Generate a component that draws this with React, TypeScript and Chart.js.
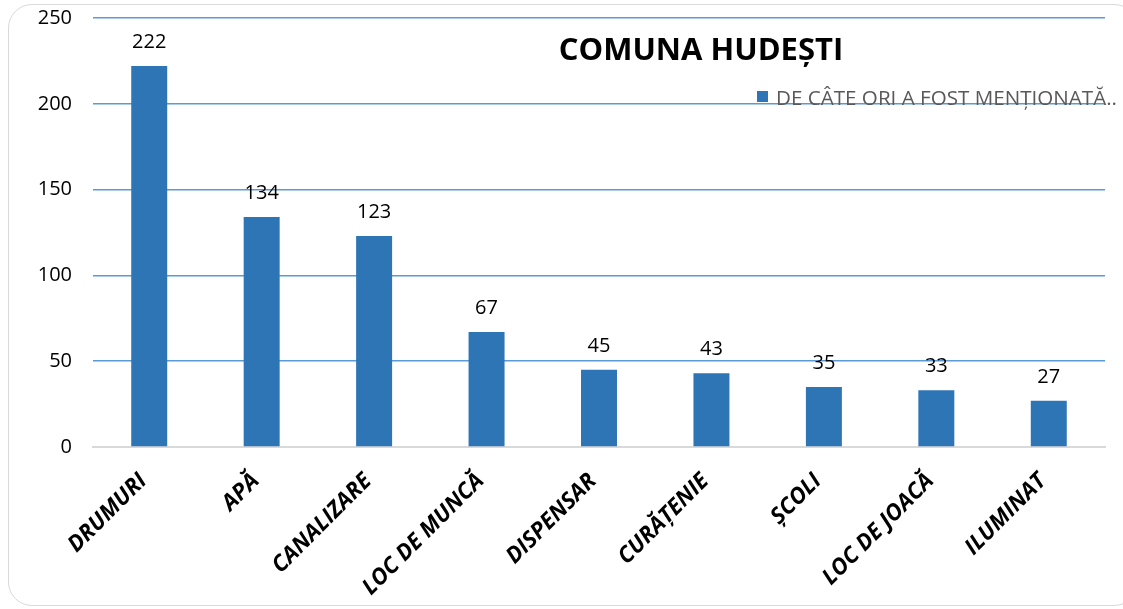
import React, { useEffect, useRef } from "react";
import { Chart, registerables } from "chart.js";
Chart.register(...registerables);

const categories = ["DRUMURI", "APĂ", "CANALIZARE", "LOC DE MUNCĂ", "DISPENSAR", "CURĂȚENIE", "ȘCOLI", "LOC DE JOACĂ", "ILUMINAT"];
const values = [222, 134, 123, 67, 45, 43, 35, 33, 27];
const yTicks = [0, 50, 100, 150, 200, 250];
const chartTitle = "COMUNA HUDEȘTI";
const seriesName = "DE CÂTE ORI A FOST MENȚIONATĂ..";

const FONT = "'Open Sans', 'Liberation Sans', sans-serif";
const BAR = "#2E75B6";

export default function App() {
  const ref = useRef<HTMLCanvasElement | null>(null);
  useEffect(() => {
    if (!ref.current) return;
    const overlay = {
      id: "overlay",
      afterDatasetsDraw(chart: any) {
        const ctx = chart.ctx;
        const meta = chart.getDatasetMeta(0);
        ctx.save();
        ctx.fillStyle = "#000";
        ctx.font = `20px ${FONT}`;
        ctx.textAlign = "center";
        ctx.textBaseline = "alphabetic";
        meta.data.forEach((el: any, i: number) => {
          ctx.fillText(String(values[i]), el.x, el.y - 18);
        });
        // title
        ctx.font = `bold 31px ${FONT}`;
        ctx.textBaseline = "middle";
        ctx.fillText(chartTitle, 701, 51);
        // legend
        ctx.fillStyle = BAR;
        ctx.fillRect(757, 91, 11, 11);
        ctx.fillStyle = "#595959";
        ctx.font = `20.6px ${FONT}`;
        ctx.textAlign = "left";
        ctx.textBaseline = "alphabetic";
        ctx.fillText(seriesName, 776, 105);
        ctx.restore();
      },
    };
    const chart = new Chart(ref.current, {
      type: "bar",
      data: {
        labels: categories,
        datasets: [
          {
            label: seriesName,
            data: values,
            backgroundColor: BAR,
            barPercentage: 0.32,
            categoryPercentage: 1,
          },
        ],
      },
      options: {
        responsive: false,
        animation: false,
        layout: { padding: { top: 18, right: 18, left: 0, bottom: 0 } },
        plugins: { legend: { display: false }, title: { display: false }, tooltip: { enabled: false } },
        scales: {
          x: {
            grid: { display: false },
            border: { color: "#D9D9D9", width: 2 },
            ticks: {
              color: "#000",
              font: { family: FONT, size: 22.5, weight: "bold", style: "italic" },
              maxRotation: 45,
              minRotation: 45,
              autoSkip: false,
              padding: 13,
              labelOffset: -6,
            },
            afterFit: (s: any) => {
              s.height = 162;
              s.paddingLeft = 0;
              s.paddingRight = 0;
            },
          },
          y: {
            min: 0,
            max: 250,
            afterBuildTicks: (s: any) => {
              s.ticks = yTicks.map((v) => ({ value: v }));
            },
            border: { display: false },
            grid: {
              drawTicks: false,
              color: (c: any) => (c.tick && c.tick.value === 0 ? "rgba(0,0,0,0)" : "#5B9BD5"),
              lineWidth: 1.6,
            },
            ticks: { color: "#000", font: { family: FONT, size: 20 }, padding: 21 },
            afterFit: (s: any) => {
              s.width = 93;
              s.paddingTop = 0;
              s.paddingBottom = 0;
            },
          },
        },
      },
      plugins: [overlay],
    } as any);
    return () => chart.destroy();
  }, []);
  return (
    <div style={{ position: "fixed", left: 0, top: 0, width: 1123, height: 609, background: "#fff" }}>
      <div
        style={{
          position: "absolute",
          left: 8,
          top: 4,
          width: 1130,
          height: 602,
          border: "1.5px solid #D9D9D9",
          borderRadius: 24,
          boxSizing: "border-box",
        }}
      />
      <canvas ref={ref} width={1123} height={609} style={{ position: "absolute", left: 0, top: 0 }} />
    </div>
  );
}
